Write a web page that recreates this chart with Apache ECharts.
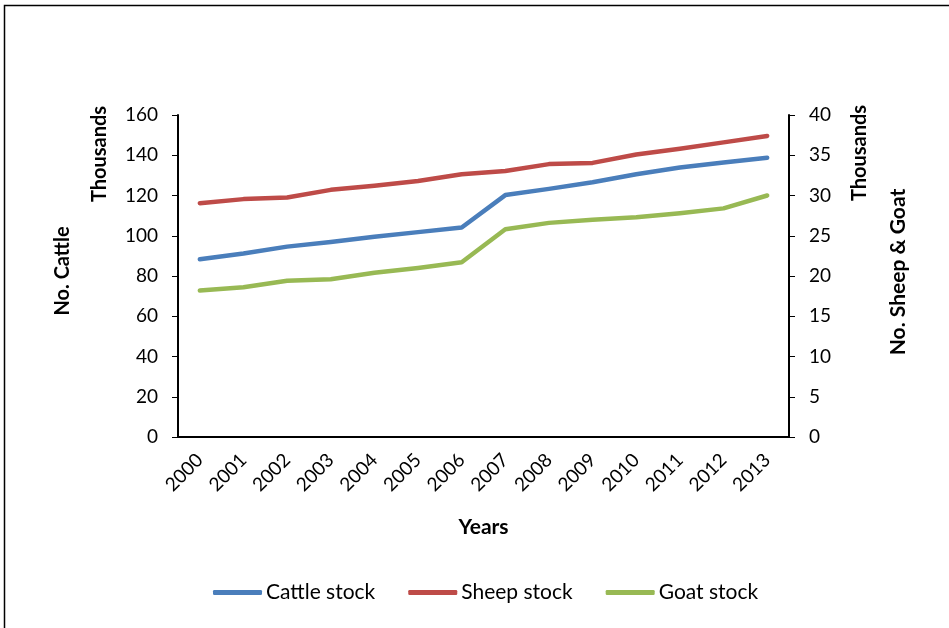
<!DOCTYPE html>
<html>
<head>
<meta charset="utf-8">
<script src="https://cdn.jsdelivr.net/npm/echarts@6/dist/echarts.min.js"></script>
<style>
  html, body { margin: 0; padding: 0; background: #fff; }
  #chart { width: 949px; height: 628px; }
</style>
</head>
<body>
<div id="chart"></div>
<script>
// Livestock numbers by year (thousands)
var years = ['2000','2001','2002','2003','2004','2005','2006','2007','2008','2009','2010','2011','2012','2013'];
var cattle = [88.3, 91.2, 94.6, 96.9, 99.5, 101.8, 104.1, 120.2, 123.3, 126.6, 130.6, 133.9, 136.4, 138.8];
var sheep = [29.05, 29.55, 29.75, 30.7, 31.2, 31.8, 32.65, 33.05, 33.9, 34.05, 35.1, 35.8, 36.6, 37.4];
var goat = [18.2, 18.6, 19.4, 19.6, 20.4, 21.0, 21.7, 25.8, 26.6, 27.0, 27.3, 27.8, 28.4, 30.0];

var FONT = 'Lato, "Open Sans", sans-serif';
var AXIS_COLOR = '#000';

var chart = echarts.init(document.getElementById('chart'), null, { renderer: 'canvas' });

function lineSeries(name, data, color, yIndex) {
  return {
    name: name,
    type: 'line',
    data: data,
    yAxisIndex: yIndex,
    symbol: 'none',
    smooth: false,
    lineStyle: { color: color, width: 4.5, cap: 'round', join: 'round' },
    itemStyle: { color: color },
    emphasis: { disabled: true }
  };
}

function valueAxis(position, max, interval) {
  return {
    type: 'value',
    position: position,
    min: 0,
    max: max,
    interval: interval,
    splitLine: { show: false },
    axisLine: { show: true, lineStyle: { color: AXIS_COLOR, width: 2 } },
    axisTick: { show: true, inside: false, length: 6, lineStyle: { color: AXIS_COLOR, width: 1 } },
    axisLabel: { color: '#000', fontFamily: FONT, fontSize: 19, margin: 20 }
  };
}

chart.setOption({
  animation: false,
  backgroundColor: '#fff',
  grid: { left: 178, right: 160, top: 115, bottom: 191, containLabel: false },
  xAxis: {
    type: 'category',
    data: years,
    boundaryGap: true,
    axisLine: { show: true, lineStyle: { color: AXIS_COLOR, width: 2 } },
    axisTick: { show: false },
    axisLabel: { color: '#000', fontFamily: FONT, fontSize: 19, rotate: 45, margin: 20, interval: 0 },
    name: 'Years',
    nameLocation: 'middle',
    nameGap: 80,
    nameTextStyle: { color: '#000', fontFamily: FONT, fontSize: 21, fontWeight: 'bold' }
  },
  yAxis: [
    valueAxis('left', 160, 20),
    valueAxis('right', 40, 5)
  ],
  legend: {
    show: true,
    bottom: 20,
    left: 208,
    itemWidth: 49,
    itemHeight: 5,
    itemGap: 33,
    icon: 'roundRect',
    textStyle: { color: '#000', fontFamily: FONT, fontSize: 21, padding: [0, 0, 0, -1] },
    data: ['Cattle stock', 'Sheep stock', 'Goat stock']
  },
  series: [
    lineSeries('Cattle stock', cattle, '#4A7EBB', 0),
    lineSeries('Sheep stock', sheep, '#BE4B48', 1),
    lineSeries('Goat stock', goat, '#98B954', 1)
  ],
  graphic: [
    {
      type: 'rect',
      shape: { x: 4.5, y: 5.5, width: 960, height: 640 },
      style: { fill: 'none', stroke: '#000', lineWidth: 1.5 },
      silent: true
    },
    {
      type: 'text', x: 63, y: 271, rotation: Math.PI / 2,
      style: { text: 'No. Cattle', fill: '#000', font: 'bold 20px ' + FONT, textAlign: 'center', textVerticalAlign: 'middle' }
    },
    {
      type: 'text', x: 100, y: 154, rotation: Math.PI / 2,
      style: { text: 'Thousands', fill: '#000', font: 'bold 20px ' + FONT, textAlign: 'center', textVerticalAlign: 'middle' }
    },
    {
      type: 'text', x: 860, y: 153, rotation: Math.PI / 2,
      style: { text: 'Thousands', fill: '#000', font: 'bold 20px ' + FONT, textAlign: 'center', textVerticalAlign: 'middle' }
    },
    {
      type: 'text', x: 898, y: 272, rotation: Math.PI / 2,
      style: { text: 'No. Sheep & Goat', fill: '#000', font: 'bold 21px ' + FONT, textAlign: 'center', textVerticalAlign: 'middle' }
    }
  ]
});
</script>
</body>
</html>
